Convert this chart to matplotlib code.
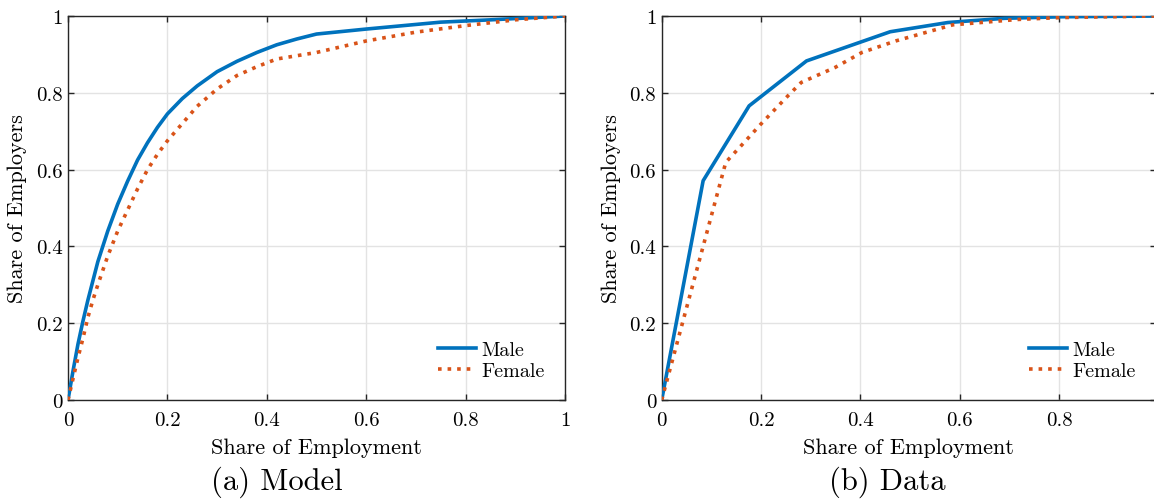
import matplotlib
matplotlib.use('Agg')
import matplotlib.pyplot as plt

plt.rcParams['font.family'] = 'serif'
plt.rcParams['font.serif'] = ['cmr10']
plt.rcParams['mathtext.fontset'] = 'cm'
plt.rcParams['axes.formatter.use_mathtext'] = True

# Model: cumulative share of employers vs share of employment
model_x_male = [0, 0.01, 0.02, 0.03, 0.04, 0.05, 0.06, 0.08, 0.10, 0.12, 0.14, 0.16,
                0.18, 0.20, 0.23, 0.26, 0.30, 0.34, 0.38, 0.42, 0.46, 0.50, 0.60,
                0.75, 0.85, 1.0]
model_y_male = [0, 0.075, 0.145, 0.205, 0.26, 0.31, 0.36, 0.44, 0.51, 0.57, 0.625, 0.67,
                0.71, 0.745, 0.785, 0.818, 0.855, 0.882, 0.905, 0.925, 0.94, 0.953, 0.966,
                0.984, 0.99, 1.0]
model_x_female = [0, 0.01, 0.02, 0.03, 0.04, 0.05, 0.06, 0.08, 0.10, 0.12, 0.14, 0.16,
                  0.18, 0.20, 0.23, 0.26, 0.30, 0.34, 0.38, 0.42, 0.50, 0.60, 0.70,
                  0.80, 0.90, 1.0]
model_y_female = [0, 0.055, 0.11, 0.16, 0.215, 0.26, 0.30, 0.375, 0.44, 0.495, 0.55, 0.60,
                  0.64, 0.675, 0.72, 0.765, 0.81, 0.845, 0.868, 0.888, 0.905, 0.935, 0.958,
                  0.975, 0.99, 1.0]

# Data: observed distribution
data_x_male = [0, 0.0834, 0.176, 0.2915, 0.46, 0.576, 0.69, 0.805, 0.995]
data_y_male = [0, 0.571, 0.766, 0.883, 0.959, 0.983, 0.994, 0.998, 1.0]
data_x_female = [0, 0.129, 0.169, 0.20, 0.254, 0.281, 0.349, 0.403, 0.471, 0.586,
                 0.717, 0.805, 0.995]
data_y_female = [0, 0.619, 0.675, 0.719, 0.792, 0.827, 0.866, 0.905, 0.935, 0.977,
                 0.991, 0.996, 1.0]

x_ticks = [0, 0.2, 0.4, 0.6, 0.8, 1]
x_tick_labels = ['0', '0.2', '0.4', '0.6', '0.8', '1']
y_ticks = [0, 0.2, 0.4, 0.6, 0.8, 1]
y_tick_labels = ['0', '0.2', '0.4', '0.6', '0.8', '1']

blue = '#0072BD'
orange = '#D95319'
W, H = 1154, 502

fig = plt.figure(figsize=(W / 100, H / 100), dpi=100)
ax1 = fig.add_axes([68 / W, 1 - 401 / H, (565 - 68) / W, (401 - 17) / H])
ax2 = fig.add_axes([661.7 / W, 1 - 401 / H, (1156 - 661.7) / W, (401 - 17) / H])


def style(ax, xmax):
    n = len([t for t in x_ticks if t <= xmax])
    ax.set_xlim(0, xmax)
    ax.set_ylim(0, 1)
    ax.set_xticks(x_ticks[:n])
    ax.set_xticklabels(x_tick_labels[:n])
    ax.set_yticks(y_ticks)
    ax.set_yticklabels(y_tick_labels)
    ax.grid(True, color='#e3e3e3', linewidth=1.0)
    ax.set_axisbelow(True)
    ax.tick_params(direction='in', top=True, right=True, length=4,
                   width=1.0, color='#262626', labelsize=15, pad=4)
    ax.tick_params(axis='x', pad=8)
    for s in ax.spines.values():
        s.set_color('#262626')
        s.set_linewidth(1.0)
    ax.set_xlabel('Share of Employment', fontsize=16, labelpad=6)
    ax.set_ylabel('Share of Employers', fontsize=16, labelpad=6)


for ax, xm, ym, xf, yf, xmax in [
        (ax1, model_x_male, model_y_male, model_x_female, model_y_female, 1.0),
        (ax2, data_x_male, data_y_male, data_x_female, data_y_female, 0.995)]:
    ax.plot(xm, ym, color=blue, linewidth=2.6, label='Male', zorder=3)
    ax.plot(xf, yf, color=orange, linewidth=2.6, linestyle=':', label='Female', zorder=3)
    style(ax, xmax)
    ax.legend(loc='lower right', frameon=False, fontsize=14.5, handlelength=1.9,
              handletextpad=0.25, labelspacing=0.15, borderaxespad=0.6)

fig.text(277 / W, 1 - 482 / H, '(a) Model', ha='center', va='center', fontsize=22)
fig.text(887 / W, 1 - 482 / H, '(b) Data', ha='center', va='center', fontsize=22)

fig.savefig('out.png', dpi=100)
